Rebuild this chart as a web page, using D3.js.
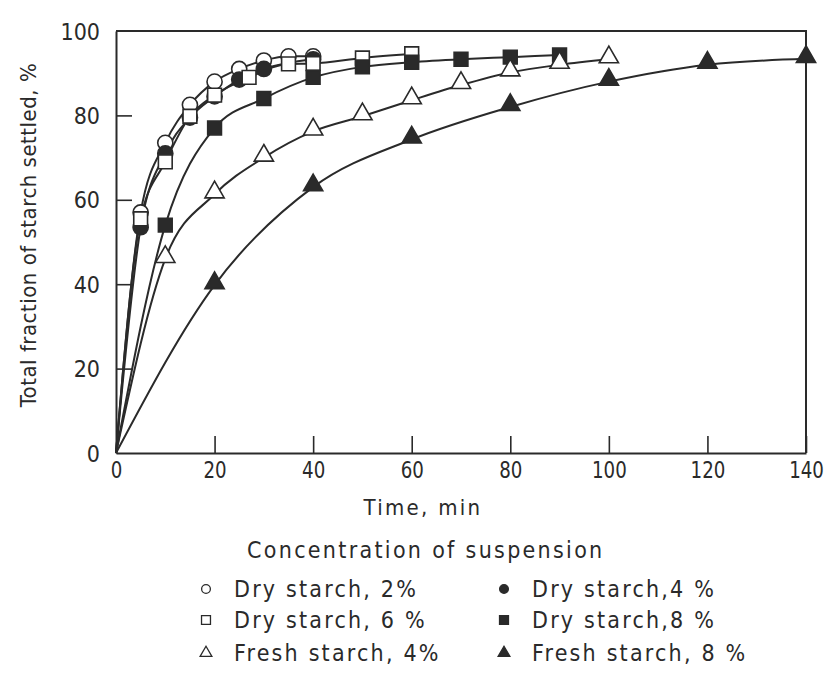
<!DOCTYPE html>
<html>
<head>
<meta charset="utf-8">
<script src="https://cdn.jsdelivr.net/npm/d3@7"></script>
<style>
  body { margin: 0; background: #fff; }
  svg text { font-family: "DejaVu Sans Condensed", "DejaVu Sans", sans-serif; fill: #2a2a2a; }
</style>
</head>
<body>
<div id="chart"></div>
<script>
// values (time in min, fraction settled in %)
const dry2Time = [5, 10, 15, 20, 25, 30, 35, 40];
const dry2Val  = [57, 73.5, 82.5, 88, 91, 93, 94, 94];
const dry4Time = [5, 10, 15, 20, 25, 30, 40];
const dry4Val  = [53.5, 71, 79.5, 84.5, 88.5, 91, 93.3];
const dry6Time = [5, 10, 15, 20, 27, 35, 40, 50, 60];
const dry6Val  = [55.5, 69, 79.8, 84.8, 89, 92.2, 92.3, 93.6, 94.6];
const dry8Time = [10, 20, 30, 40, 50, 60, 70, 80, 90];
const dry8Val  = [54, 77, 84, 89, 91.5, 92.6, 93.3, 93.8, 94.3];
const fresh4Time = [10, 20, 30, 40, 50, 60, 70, 80, 90, 100];
const fresh4Val  = [46, 61.3, 70, 76.2, 79.8, 83.6, 87.2, 90.2, 92, 93.3];
const fresh8Time = [20, 40, 60, 80, 100, 120, 140];
const fresh8Val  = [39.8, 63, 74.3, 82, 88, 92, 93.4];

const xTicks = [0, 20, 40, 60, 80, 100, 120, 140];
const yTicks = [0, 20, 40, 60, 80, 100];

const series = [
  { name: 'Dry starch, 2%',    t: dry2Time,   v: dry2Val,   shape: 'circle',   fill: '#fff' },
  { name: 'Dry starch,4 %',    t: dry4Time,   v: dry4Val,   shape: 'circle',   fill: '#2a2a2a' },
  { name: 'Dry starch, 6 %',   t: dry6Time,   v: dry6Val,   shape: 'square',   fill: '#fff' },
  { name: 'Dry starch,8 %',    t: dry8Time,   v: dry8Val,   shape: 'square',   fill: '#2a2a2a' },
  { name: 'Fresh starch, 4%',  t: fresh4Time, v: fresh4Val, shape: 'triangle', fill: '#fff' },
  { name: 'Fresh starch, 8 %', t: fresh8Time, v: fresh8Val, shape: 'triangle', fill: '#2a2a2a' }
];

const width = 825, height = 677, margin = { t: 31, r: 19, b: 224, l: 116 };
const ink = '#2a2a2a';

const svg = d3.select('#chart').append('svg')
  .attr('width', width).attr('height', height);

const x = d3.scaleLinear().domain([0, 140]).range([margin.l, width - margin.r]);
const y = d3.scaleLinear().domain([0, 100]).range([height - margin.b, margin.t]);

// frame: axes with inward ticks plus top/right border
const xAxis = svg.append('g').attr('transform', `translate(0,${y(0)})`)
  .call(d3.axisBottom(x).tickValues(xTicks).tickSize(-17).tickPadding(9).tickSizeOuter(0));
const yAxis = svg.append('g').attr('transform', `translate(${x(0)},0)`)
  .call(d3.axisLeft(y).tickValues(yTicks).tickSize(-16).tickPadding(16).tickSizeOuter(0));
[xAxis, yAxis].forEach(g => {
  g.select('.domain').attr('stroke', ink).attr('stroke-width', 2);
  g.selectAll('.tick line').attr('stroke', ink).attr('stroke-width', 1.6);
  g.selectAll('.tick text').attr('font-size', 23)
    .attr('font-family', '"DejaVu Sans Condensed", sans-serif').style('fill', ink);
});
// narrow, tall digits like the original lettering
xAxis.selectAll('.tick text').attr('transform', 'scale(0.88,1)');
yAxis.selectAll('.tick text').attr('dy', '0.35em');
xAxis.selectAll('.tick').filter(d => d === 0).select('line').remove();
yAxis.selectAll('.tick').filter(d => d === 0 || d === 100).select('line').remove();

svg.append('path')
  .attr('d', `M${x(0)},${y(100)}H${x(140)}V${y(0)}`)
  .attr('fill', 'none').attr('stroke', ink).attr('stroke-width', 2);

// curves from origin through each series
const line = d3.line().x(d => x(d[0])).y(d => y(d[1])).curve(d3.curveMonotoneX);
series.forEach(s => {
  const pts = [[0, 0]].concat(s.t.map((t, i) => [t, s.v[i]]));
  svg.append('path').attr('d', line(pts))
    .attr('fill', 'none').attr('stroke', ink).attr('stroke-width', 2);
});

const symType = { circle: d3.symbolCircle, square: d3.symbolSquare, triangle: d3.symbolTriangle };
const symSize = { circle: 180, square: 190, triangle: 160 };

series.forEach(s => {
  const sym = d3.symbol().type(symType[s.shape]).size(symSize[s.shape]);
  svg.append('g').selectAll('path').data(s.t.map((t, i) => [t, s.v[i]])).join('path')
    .attr('d', sym)
    .attr('transform', d => `translate(${x(d[0])},${y(d[1]) + (s.shape === 'triangle' ? -2 : 0)})`)
    .attr('fill', s.fill).attr('stroke', ink).attr('stroke-width', 1.6);
});

// axis titles
svg.append('text').attr('x', 423).attr('y', 515)
  .attr('text-anchor', 'middle').attr('font-size', 22).attr('letter-spacing', 2.3).text('Time, min');
svg.append('text')
  .attr('transform', `translate(36,235) rotate(-90)`)
  .attr('text-anchor', 'middle').attr('font-size', 22).attr('letter-spacing', 0.5)
  .text('Total fraction of starch settled, %');

// legend
svg.append('text').attr('x', 247).attr('y', 558).attr('font-size', 23).attr('letter-spacing', 2.3)
  .text('Concentration of suspension');
const legX = [206, 504], legY = [589, 620, 653];
const legSize = { circle: 60, square: 80, triangle: 60 };
series.forEach((s, i) => {
  const cx = legX[i % 2], cy = legY[Math.floor(i / 2)];
  const sym = d3.symbol().type(symType[s.shape]).size(legSize[s.shape]);
  svg.append('path').attr('d', sym).attr('transform', `translate(${cx},${cy})`)
    .attr('fill', s.fill).attr('stroke', ink).attr('stroke-width', 1.3);
  svg.append('text').attr('x', cx + 28).attr('y', cy + 8).attr('font-size', 23)
    .attr('letter-spacing', 2.2).text(s.name);
});
</script>
</body>
</html>
